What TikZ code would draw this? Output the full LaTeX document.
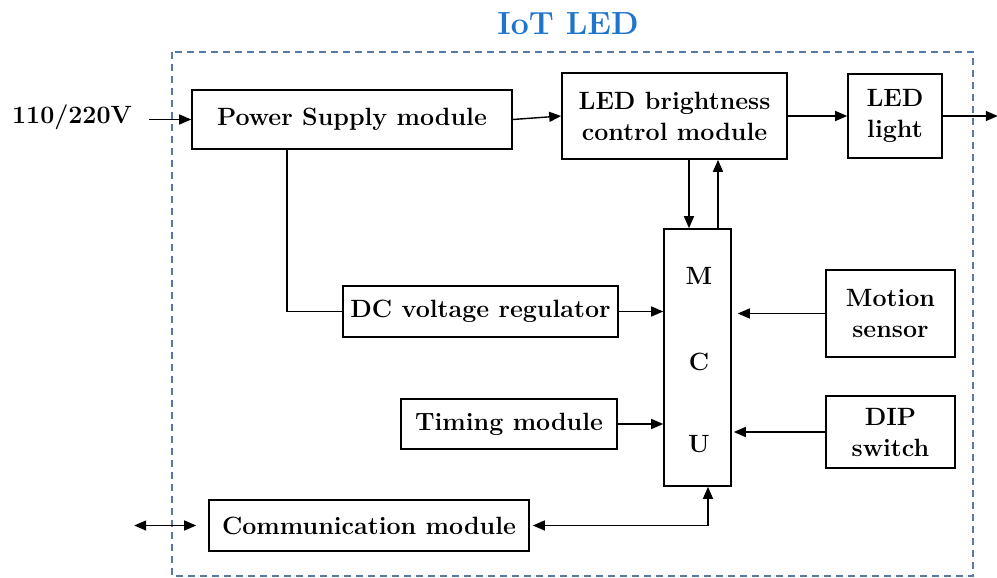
\documentclass[tikz,border=0pt]{standalone}
\usepackage{xcolor}
\usepackage{tikz}
\usetikzlibrary{arrows.meta, calc}

\definecolor{iotblue}{RGB}{31,117,204}
\definecolor{frameblue}{RGB}{84,122,165}

\begin{document}
\begin{tikzpicture}[x=0.5pt, y=-0.5pt,
  box/.style={draw, line width=0.8pt, inner sep=0pt, align=center,
    font=\bfseries\fontsize{12.5}{15.5}\selectfont},
  lbl/.style={font=\bfseries\fontsize{12.5}{15.5}\selectfont},
  arr/.style={-{Triangle[length=6pt,width=5pt]}, line width=0.7pt},
  darr/.style={{Triangle[length=6pt,width=5pt]}-{Triangle[length=6pt,width=5pt]}, line width=0.7pt}]
\useasboundingbox (0,0) rectangle (997,578);

% Frame and title
\draw[frameblue, line width=0.6pt, dash pattern=on 3.5pt off 2.5pt] (172,52) rectangle (973,576);
\node[font=\bfseries\fontsize{16}{19}\selectfont, text=iotblue] (title) at (568,24) {IoT LED};

% Blocks
\node[lbl] (volt) at (72,117) {110/220V};
\node[box, minimum width=160pt, minimum height=29.5pt] (ps) at (352,119.5) {Power Supply module};
\node[box, minimum width=112.5pt, minimum height=43pt] (ledb) at (674.5,116) {LED brightness\\control module};
\node[box, minimum width=47pt, minimum height=42pt] (led) at (895,116) {LED\\light};
\node[box, minimum width=33.5pt, minimum height=128.5pt] (mcu) at (697.5,357.5) {};
\node[lbl] (mcuM) at (699,276) {M};
\node[lbl] (mcuC) at (699,362) {C};
\node[lbl] (mcuU) at (699,444) {U};
\node[box, minimum width=137.5pt, minimum height=25.5pt] (dc) at (480.5,311.5) {DC voltage regulator};
\node[box, minimum width=108pt, minimum height=25pt] (tim) at (509,424) {Timing module};
\node[box, minimum width=160pt, minimum height=25.5pt] (com) at (369,525.5) {Communication module};
\node[box, minimum width=64.5pt, minimum height=43.5pt] (mot) at (890.5,313.5) {Motion\\sensor};
\node[box, minimum width=64.5pt, minimum height=36pt] (dip) at (890.5,432) {DIP\\switch};

% Free ends
\coordinate (in) at ($(ps.west)+(-42,0)$);
\coordinate (out) at ($(led.east)+(55,0)$);
\coordinate (ext) at ($(com.west)+(-74,0)$);
\coordinate (dn) at ($(mcu.north)+(-8.5,0)$);
\coordinate (up) at ($(mcu.north)+(20.5,0)$);
\coordinate (cb) at ($(mcu.south)+(10.5,0)$);
\coordinate (tap) at ($(ps.south)+(-65,0)$);

% Connectors
\draw[arr] (in) -- (ps.west);
\draw[arr] (ps.east) -- (ledb.west);
\draw[arr] (ledb.east) -- (led.west);
\draw[arr] (led.east) -- (out);
\draw[arr] (ledb.south -| dn) -- (dn);
\draw[arr] (up) -- (ledb.south -| up);
\draw[line width=0.7pt] (tap) |- (dc.west);
\draw[arr] (dc.east) -- (mcu.west |- dc.east);
\draw[arr] (tim.east) -- (mcu.west |- tim.east);
\draw[arr, shorten >=3pt] (mot.west) -- (mcu.east |- mot.west);
\draw[arr, shorten >=1pt] (dip.west) -- (mcu.east |- dip.west);
\draw[darr, shorten <=1.5pt] (com.east) -| (cb);
\draw[darr, shorten >=6pt] (ext) -- (com.west);

\end{tikzpicture}
\end{document}
